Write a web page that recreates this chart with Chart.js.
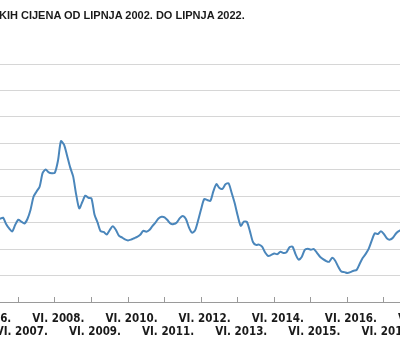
<!DOCTYPE html>
<html lang="hr">
<head>
<meta charset="UTF-8">
<title>Kretanje cijena</title>
<script src="https://cdn.jsdelivr.net/npm/chart.js"></script>
<style>
  html, body { margin: 0; padding: 0; background: #fff; overflow: hidden; }
  body { width: 400px; height: 340px; position: relative; }
  #title {
    position: absolute; left: -1px; top: 10px; z-index: 2;
    font: bold 11px "Liberation Sans", Arial, sans-serif; line-height: 11px;
    color: #1a1a1a; white-space: nowrap;
  }
  #wrap { position: absolute; left: -60px; top: 0; width: 520px; height: 340px; }
</style>
</head>
<body>
<div id="title">KIH CIJENA OD LIPNJA 2002. DO LIPNJA 2022.</div>
<div id="wrap"><canvas id="chart" width="520" height="340"></canvas></div>

<script>
// months counted from VI. 2002. (= 0); first value is XII. 2006.
const firstMonth = 54;

// monthly values, XII. 2006. - XII. 2017.
const values = [
  31.4, 31.9, 29.5, 27.8, 26.7, 29.2, 31.1, 30.4, 29.7, 31.4, 34.8, 39.8,
  41.8, 43.6, 48.8, 50.1, 49.0, 48.7, 48.9, 53.3, 60.8, 59.5, 55.4, 51.0,
  47.5, 40.6, 35.4, 37.8, 40.2, 39.4, 39.2, 33.1, 30.1, 26.8, 26.5, 25.5,
  27.2, 28.6, 27.3, 25.1, 24.4, 23.7, 23.3, 23.6, 24.1, 24.6, 25.4, 26.9,
  26.6, 27.2, 28.7, 30.0, 31.6, 32.2, 32.0, 30.9, 29.6, 29.5, 30.1, 31.7,
  32.5, 31.4, 28.2, 26.2, 27.1, 30.8, 35.2, 38.9, 38.6, 38.2, 41.8, 44.6,
  43.1, 42.8, 44.5, 44.9, 41.3, 37.4, 32.6, 28.8, 30.4, 30.3, 26.8, 22.7,
  21.6, 21.7, 20.9, 18.7, 17.4, 17.8, 18.3, 18.1, 19.0, 18.5, 18.8, 20.7,
  20.9, 18.0, 16.0, 17.0, 19.7, 20.1, 19.8, 20.0, 18.6, 17.1, 16.2, 15.5,
  15.2, 16.7, 15.6, 13.3, 11.5, 11.3, 11.0, 11.3, 11.8, 12.1, 14.4, 16.6,
  18.2, 20.2, 23.3, 26.0, 25.7, 26.8, 25.7, 24.0, 23.6, 24.4, 26.0, 26.9,
  27.2
];

// x axis labels, one per June
const tickYears = [2005, 2006, 2007, 2008, 2009, 2010, 2011, 2012, 2013, 2014, 2015, 2016, 2017, 2018, 2019];
const tickLabels = tickYears.map(y => 'VI. ' + y + '.');

const points = values.map((v, i) => ({ x: firstMonth + i, y: v }));

const ctx = document.getElementById('chart').getContext('2d');
new Chart(ctx, {
  type: 'line',
  data: {
    datasets: [{
      data: points,
      borderColor: '#4a86bb',
      borderWidth: 2,
      pointRadius: 0,
      tension: 0.25,
      fill: false
    }]
  },
  options: {
    responsive: false,
    animation: false,
    layout: { padding: { top: 64, left: 0, right: 0, bottom: 0 } },
    plugins: { legend: { display: false }, tooltip: { enabled: false } },
    scales: {
      x: {
        type: 'linear',
        min: 34.31,
        max: 204.94,
        border: { display: true, color: '#9a9a9a', width: 1 },
        grid: { drawOnChartArea: false, drawTicks: true, tickLength: -5, tickColor: '#9a9a9a' },
        ticks: {
          stepSize: 12,
          includeBounds: false,
          autoSkip: false,
          maxRotation: 0,
          minRotation: 0,
          padding: 15,
          labelOffset: 3.5,
          color: '#1a1a1a',
          font: { family: "'Liberation Sans Narrow', 'DejaVu Sans Condensed', sans-serif", size: 11.5, weight: 'bold', lineHeight: 1.15 },
          callback: function (value) {
            const year = 2002 + value / 12;
            const label = tickLabels[tickYears.indexOf(year)];
            if (!label) return '';
            return year % 2 === 0 ? [label] : ['', label];
          }
        },
        afterFit: function (scale) {
          scale.height = 38;
          scale.paddingLeft = 0;
          scale.paddingRight = 0;
        }
      },
      y: {
        min: 0,
        max: 90,
        border: { display: false },
        grid: {
          drawTicks: false,
          lineWidth: 1,
          color: c => c.tick.value === 0 ? 'rgba(0,0,0,0)' : '#d6d6d6'
        },
        ticks: { display: false, stepSize: 10 },
        afterFit: function (scale) { scale.width = 0; }
      }
    }
  }
});
</script>
</body>
</html>
